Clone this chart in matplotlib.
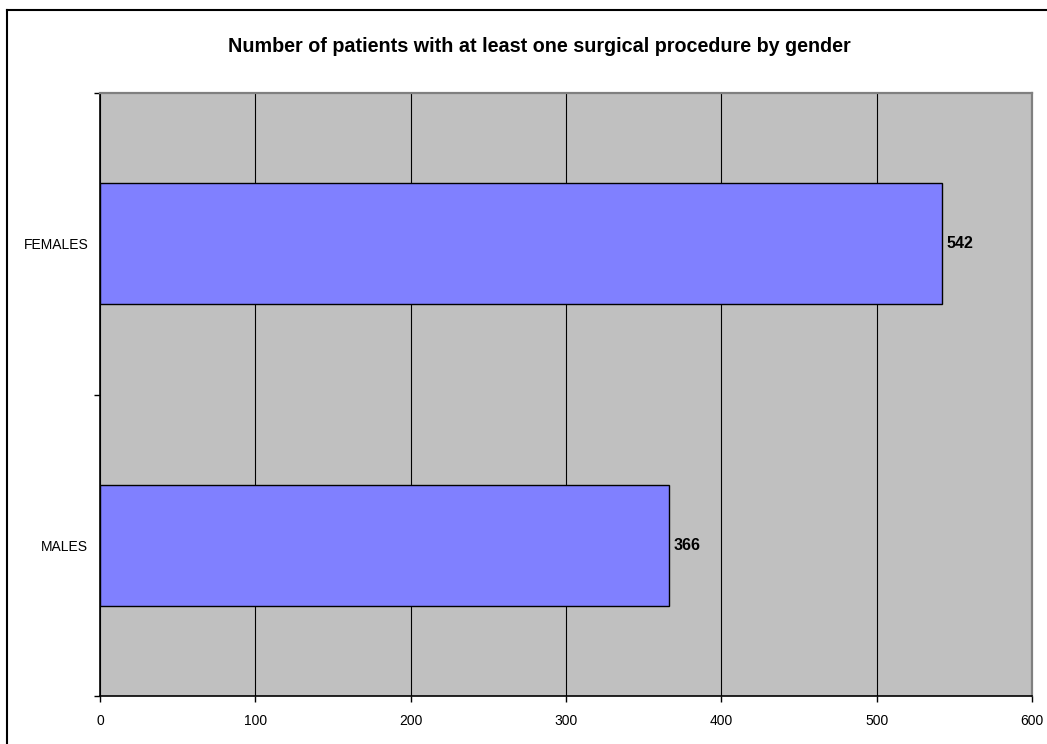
import matplotlib.pyplot as plt
from matplotlib.lines import Line2D

categories = ["MALES", "FEMALES"]
patients = [366, 542]
x_ticks = [0, 100, 200, 300, 400, 500, 600]

plt.rcParams["font.family"] = ["Liberation Sans", "DejaVu Sans"]

fig = plt.figure(figsize=(10.47, 7.44), dpi=100)
ax = fig.add_axes([100 / 1047, 1 - 696 / 744, 932 / 1047, 603 / 744])
ax.set_facecolor("#C0C0C0")

pos = list(range(len(categories)))
ax.barh(pos, patients, height=0.4, color="#8080FF", edgecolor="black",
        linewidth=1, zorder=3)

for y, v in zip(pos, patients):
    ax.text(v + 3, y, str(v), va="center", ha="left", fontsize=11.5,
            fontweight="bold", zorder=4)

ax.set_xlim(0, 600)
ax.set_ylim(-0.5, 1.5)
ax.set_xticks(x_ticks)
ax.set_xticklabels([str(t) for t in x_ticks], fontsize=10)
ax.xaxis.grid(True, color="black", linewidth=0.8, zorder=1)
ax.set_axisbelow(True)

ax.set_yticks(pos)
ax.set_yticklabels(categories, fontsize=10)
ax.tick_params(axis="y", which="major", length=0, pad=8.5)
ax.set_yticks([-0.5, 0.5, 1.5], minor=True)
ax.tick_params(axis="y", which="minor", length=4, width=1, direction="out")
ax.tick_params(axis="x", length=4, width=1, direction="out", pad=9)

ax.spines["left"].set_color("black")
ax.spines["bottom"].set_color("black")
ax.spines["left"].set_linewidth(1.2)
ax.spines["bottom"].set_linewidth(1.2)
ax.spines["top"].set_color("#808080")
ax.spines["right"].set_color("#808080")
ax.spines["top"].set_linewidth(1.6)
ax.spines["right"].set_linewidth(1.6)

fig.text(539 / 1047, 1 - 46 / 744,
         "Number of patients with at least one surgical procedure by gender",
         ha="center", va="center", fontsize=14.2, fontweight="bold")

# chart frame (top and left edges)
fig.add_artist(Line2D([7 / 1047, 1.0], [1 - 10 / 744, 1 - 10 / 744],
                      color="black", linewidth=1.5, transform=fig.transFigure))
fig.add_artist(Line2D([7 / 1047, 7 / 1047], [1 - 10 / 744, 0.0],
                      color="black", linewidth=1.5, transform=fig.transFigure))

fig.savefig("out.png", dpi=100)
